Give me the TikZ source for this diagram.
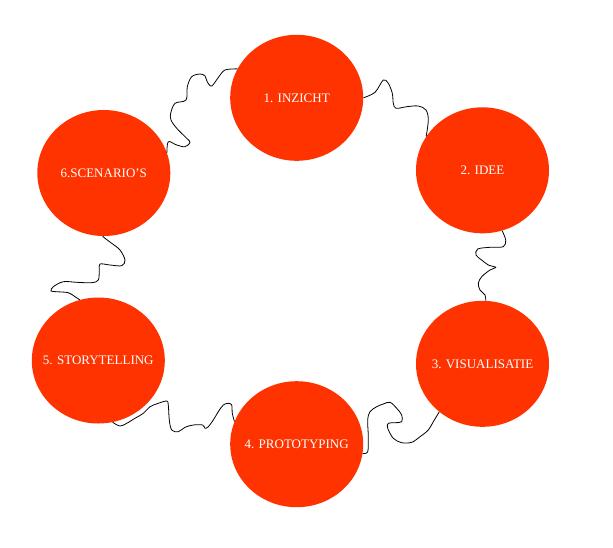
\documentclass[tikz,border=0pt]{standalone}
\usepackage{fontspec}
\setmainfont{Liberation Serif}
\usetikzlibrary{shapes.geometric}
\definecolor{stepred}{RGB}{255,51,0}
\newcommand{\steplabel}[1]{\makebox[0pt]{#1}}
\begin{document}
\begin{tikzpicture}[x=1pt,y=-1pt,
  stepcircle/.style={ellipse, fill=stepred, draw=none, minimum width=133pt, minimum height=126pt, inner sep=0pt,
    text=white, font=\fontsize{13}{15}\selectfont},
  wiggle/.style={draw=black, line width=0.8pt}]
\useasboundingbox[fill=white] (0,0) rectangle (613,547);
\node[stepcircle] (n1) at (296.7,97.8) {\steplabel{1. INZICHT}};
\node[stepcircle] (n2) at (482.5,170.3) {\steplabel{2. IDEE}};
\node[stepcircle] (n3) at (482.5,363.8) {\steplabel{3. VISUALISATIE}};
\node[stepcircle] (n4) at (296.7,444.2) {\steplabel{4. PROTOTYPING}};
\node[stepcircle] (n5) at (98.3,360.5) {\steplabel{5. STORYTELLING}};
\node[stepcircle] (n6) at (103.8,173) {\steplabel{6.SCENARIO’S}};
% 1 -> 6
\draw[wiggle] plot[smooth, tension=0.55] coordinates {(n1.154.5) (225,70) (218.3,77.5) (211.7,86) (207.3,82) (205,76) (200,74) (191.7,76.7) (187.3,86.7) (186,100) (175,103.3) (170.7,113.3) (171,120) (176.7,128.3) (186.7,138.3) (190,142.5) (185,146.7) (176.7,145) (168.3,141.7) (n6.18)};
% 1 -> 2
\draw[wiggle] plot[smooth, tension=0.55] coordinates {(n1.0) (375,92.3) (383.3,80) (388.3,83.3) (392.3,93.3) (393.3,103.3) (396,108.3) (406.7,106.7) (418.3,106) (426,110) (428.3,120) (n2.149)};
% 2 -> 3
\draw[wiggle] plot[smooth, tension=0.55] coordinates {(n2.288.7) (505.7,240) (503.3,246.7) (490,247.3) (477.7,249) (476,255) (481.7,260) (488.3,265) (495.7,267.3) (490,270) (481.7,276.7) (478.3,283.3) (480,290) (485,295) (n3.87)};
% 3 -> 4
\draw[wiggle] plot[smooth, tension=0.55] coordinates {(n3.228) (433.3,421.7) (428.3,430) (420,436.7) (411.7,442.3) (401.7,442.7) (393.3,438.3) (387.7,428.3) (388.3,423.3) (395,422.7) (401.7,421.7) (401.7,415) (396.7,408.3) (390,402.3) (383.3,404) (376.7,406.7) (370,411.7) (367.7,420) (368.3,436.7) (367.7,451.7) (n4.352)};
% 4 -> 5
\draw[wiggle] plot[smooth, tension=0.55] coordinates {(n4.160.5) (232.3,413.3) (231.7,405) (228.3,403.3) (223.3,405) (218.3,411.7) (213.3,420) (208.3,426.7) (205,428.3) (202.7,425) (193.3,425) (185,427.3) (178.3,431.7) (171.7,430) (169.3,420) (168.3,405) (166.7,401) (158.3,403.3) (150,406.7) (143.3,413.3) (135,418.3) (126.7,423.3) (120,426) (n5.283)};
% 5 -> 6
\draw[wiggle] plot[smooth, tension=0.55] coordinates {(n5.107) (75,296.7) (68.3,292.7) (56.7,291.7) (51,291) (53.3,286.7) (63.3,281.7) (76.7,282.3) (91.7,282.7) (98.3,280) (99.3,270) (100,264) (110,265) (121.7,265.7) (125,260) (120,250) (111.7,243.3) (105,238.3) (n6.269)};
\end{tikzpicture}
\end{document}
